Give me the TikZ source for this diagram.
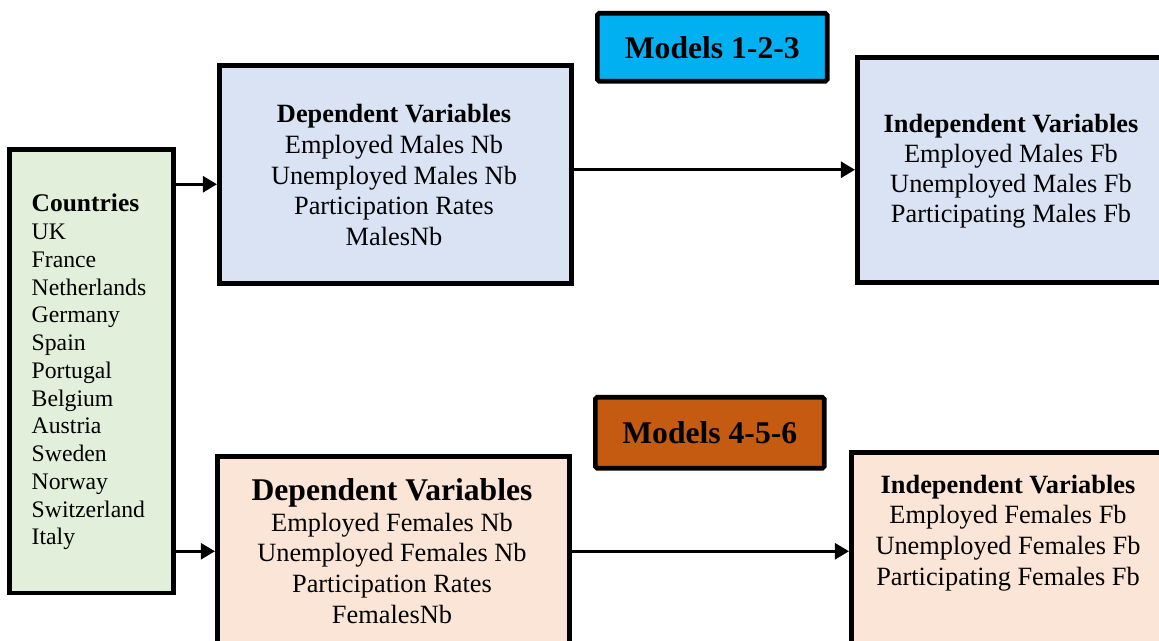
\documentclass[tikz,border=0pt]{standalone}
\usepackage{fontspec}
\setmainfont{Liberation Serif}
\usepackage{tikz}
\usetikzlibrary{shapes,arrows.meta,positioning}

\definecolor{countrygreen}{HTML}{E2EFDA}
\definecolor{maleblue}{HTML}{DAE3F3}
\definecolor{femalepink}{HTML}{FBE5D6}
\definecolor{modelcyan}{HTML}{00B0F0}
\definecolor{modelrust}{HTML}{C55A11}

\tikzset{
	box/.style={shape=rectangle, draw, line width=2.6pt, inner sep=0pt, anchor=north west},
	modelbox/.style={box, rounded corners=1pt},
	boxtext/.style={align=center, font=\fontsize{15}{17.5}\selectfont},
	link/.style={line width=1.7pt, -{Triangle[length=8pt,width=9pt]}}
}

\begin{document}
\begin{tikzpicture}[x=0.02cm, y=-0.02cm]
	\useasboundingbox (0,0) rectangle (1159,641);
	\clip (0,0) rectangle (1159,641);

	\node[box, fill=countrygreen, minimum width=3.28cm, minimum height=8.88cm] (countries) at (7,147) {};
	\node[box, fill=maleblue, minimum width=7.04cm, minimum height=4.36cm] (mdep) at (217,63) {};
	\node[box, fill=maleblue, minimum width=8cm, minimum height=4.5cm] (mindep) at (855,55) {};
	\node[box, fill=femalepink, minimum width=7.04cm, minimum height=3.8cm] (fdep) at (215,454) {};
	\node[box, fill=femalepink, minimum width=8cm, minimum height=5cm] (findep) at (849,450) {};
	\node[modelbox, fill=modelcyan, minimum width=4.6cm, minimum height=1.36cm] (m123) at (595,11) {};
	\node[modelbox, fill=modelrust, minimum width=4.58cm, minimum height=1.42cm] (m456) at (593,395) {};

	\node[align=left, font=\fontsize{13.5}{15.8}\selectfont] (countries-txt) at (89,372)
		{{\fontsize{14.5}{15.8}\selectfont\bfseries Countries}\\UK\\France\\Netherlands\\Germany\\Spain\\Portugal\\Belgium\\Austria\\Sweden\\Norway\\Switzerland\\Italy};
	\node[boxtext] (mdep-txt) at (394,175)
		{\textbf{Dependent Variables}\\Employed Males Nb\\Unemployed Males Nb\\Participation Rates\\MalesNb};
	\node[boxtext, font=\fontsize{15}{17.1}\selectfont] (mindep-txt) at (1011,171)
		{\textbf{Independent Variables}\\Employed Males Fb\\Unemployed Males Fb\\Participating Males Fb};
	\node[boxtext] (fdep-txt) at (392,551)
		{{\fontsize{18}{20}\selectfont\bfseries Dependent Variables}\\Employed Females Nb\\Unemployed Females Nb\\Participation Rates\\FemalesNb};
	\node[boxtext] (findep-txt) at (1008,533)
		{\textbf{Independent Variables}\\Employed Females Fb\\Unemployed Females Fb\\Participating Females Fb};
	\node[font=\fontsize{18}{20}\selectfont\bfseries] (m123-txt) at (m123.center) {Models 1-2-3};
	\node[font=\fontsize{18}{20}\selectfont\bfseries] (m456-txt) at (m456.center) {Models 4-5-6};

	\coordinate (mdep-in) at ([yshift=-0.2cm]mdep.west);

	\path [link] (countries.east |- mdep-in) edge (mdep-in);
	\path [link] (countries.east |- fdep.west) edge (fdep.west);
	\path [link] (mdep.east |- mindep.west) edge (mindep.west);
	\path [link] (fdep.east) edge (fdep.east -| findep.west);
\end{tikzpicture}
\end{document}
